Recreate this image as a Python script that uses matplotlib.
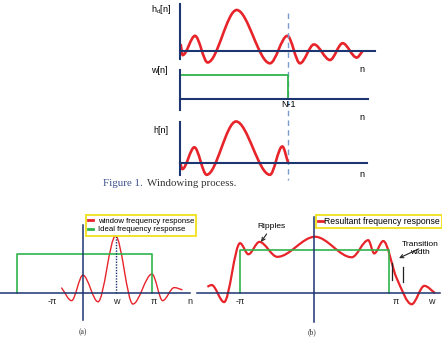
import numpy as np
import matplotlib
matplotlib.use("Agg")
import matplotlib.pyplot as plt
from matplotlib.path import Path
from matplotlib.patches import PathPatch
from matplotlib.lines import Line2D

plt.rcParams['font.family'] = ['Liberation Sans', 'DejaVu Sans']

# ==========================================================
# Datos (puntos extremos de cada curva)
# ==========================================================
# Panel superior: respuesta ideal h_d[n]
hd_n = [0.06, 0.25, 1.39, 2.56, 5.25, 8.33, 9.94, 11.11, 12.41, 13.89, 15.06, 16.36, 16.91]
hd_amp = [0.17, -0.10, 0.37, -0.28, 1.0, -0.30, 0.37, -0.30, 0.16, -0.22, 0.19, -0.16, 0.0]

# Ventana rectangular w[n]
N_menos_1 = 10
w_n = [0, N_menos_1, N_menos_1]
w_val = [1, 1, 0]

# Respuesta enventanada h[n]
h_n = [0.0, 0.22, 1.33, 2.47, 5.19, 8.33, 9.47, 10.03]
h_amp = [0.02, -0.14, 0.39, -0.28, 1.02, -0.28, 0.41, 0.0]

# (a) respuesta en frecuencia de la ventana e ideal
a_w = [-0.96, -0.50, 0.01, 0.69, 1.48, 2.26, 3.12, 3.60, 4.12, 4.49]
a_mag = [0.09, -0.14, 0.31, -0.16, 1.0, -0.20, 0.33, -0.14, 0.09, 0.05]
a_ideal_w = [-2.96, -2.96, 3.14, 3.14]
a_ideal = [0, 0.68, 0.68, 0]
a_ticks = [-1.35, 1.51, 3.18, 4.83]
a_labels = ["-π", "w", "π", "n"]

# (b) respuesta resultante
b_w = [-4.48, -4.30, -3.78, -3.11, -2.76, -2.30, -1.55, 0.03, 1.57, 2.26, 2.51, 2.89, 3.45, 4.08, 4.61, 5.06]
b_mag = [0.14, 0.18, -0.22, 1.16, 0.90, 1.19, 0.84, 1.31, 0.83, 1.23, 0.92, 1.21, 0.34, -0.27, 0.16, -0.01]
b_ideal_w = [-3.11, -3.11, 3.14, 3.14]
b_ideal = [0, 1, 1, 0]
b_ticks = [-3.11, 3.42, 4.92]
b_labels = ["-π", "π", "w"]
trans_w = [3.24, 3.70]
trans_lo = [0.30, 0.26]
trans_hi = [0.69, 0.61]

ROJO = '#e8242b'
AZUL = '#1d3570'
VERDE = '#2fb44b'
AMARILLO = '#f2e11b'
PUNTEADO = '#7a9ccc'

W, H = 442, 340
fig = plt.figure(figsize=(W / 100, H / 100), dpi=100)


def panel(caja, origen, escala, lw=1.5):
    # caja = (izq, arriba, der, abajo) en pixeles; origen y escala en pixeles
    l, t, r, b = caja
    ox, oy = origen
    sx, sy = escala
    ax = fig.add_axes([l / W, 1 - b / H, (r - l) / W, (b - t) / H])
    ax.set_xlim((l - ox) / sx, (r - ox) / sx)
    ax.set_ylim((oy - b) / sy, (oy - t) / sy)
    ax.patch.set_visible(False)
    ax.spines['top'].set_visible(False)
    ax.spines['right'].set_visible(False)
    for s in ['left', 'bottom']:
        ax.spines[s].set_position(('data', 0))
        ax.spines[s].set_color(AZUL)
        ax.spines[s].set_linewidth(lw)
    ax.set_xticks([])
    ax.set_yticks([])
    ax.tick_params(length=0, labelsize=6.5, labelcolor='#222222')
    return ax


def curva(x, y):
    # curva suave (tangentes tipo pchip) dibujada con Bezier
    x = np.asarray(x, float)
    y = np.asarray(y, float)
    h = np.diff(x)
    d = np.diff(y) / h
    m = np.zeros_like(y)
    m[0], m[-1] = d[0], d[-1]
    for k in range(1, len(x) - 1):
        if d[k - 1] * d[k] > 0:
            w1 = 2 * h[k] + h[k - 1]
            w2 = h[k] + 2 * h[k - 1]
            m[k] = (w1 + w2) / (w1 / d[k - 1] + w2 / d[k])
    verts = [(x[0], y[0])]
    codes = [Path.MOVETO]
    for k in range(len(x) - 1):
        verts += [(x[k] + h[k] / 3, y[k] + m[k] * h[k] / 3),
                  (x[k + 1] - h[k] / 3, y[k + 1] - m[k + 1] * h[k] / 3),
                  (x[k + 1], y[k + 1])]
        codes += [Path.CURVE4] * 3
    return Path(verts, codes)


# ==========================================================
# Figura 1: proceso de enventanado
# ==========================================================
ax1 = panel((180, 4, 375, 59), (180, 51), (10.8, 41))
ax1.add_patch(PathPatch(curva(hd_n, hd_amp), fill=False, color=ROJO, lw=1.9, clip_on=False))
ax1.plot([N_menos_1, N_menos_1], [0.93, -3.15], color=PUNTEADO, lw=1.0, ls=(0, (4, 3)), clip_on=False)
ax1.text(-0.83, 1.02, r"h$_\mathregular{d}$[n]", fontsize=6.5, ha='right', va='center')
ax1.text(16.85, -0.44, "n", fontsize=6.5, ha='center', va='center')

ax2 = panel((180, 70, 368, 110), (180, 99.3), (10.8, 24))
ax2.plot(w_n, w_val, color=VERDE, lw=1.3)
ax2.text(-1.11, 1.22, "w[n]", fontsize=6.5, ha='right', va='center')
ax2.text(N_menos_1, -0.2, "N-1", fontsize=6.5, ha='center', va='center')
ax2.text(16.85, -0.74, "n", fontsize=6.5, ha='center', va='center')

ax3 = panel((180, 122, 367, 175), (180, 163.3), (10.8, 41))
ax3.add_patch(PathPatch(curva(h_n, h_amp), fill=False, color=ROJO, lw=1.9, clip_on=False))
ax3.text(-1.11, 0.81, "h[n]", fontsize=6.5, ha='right', va='center')
ax3.text(16.85, -0.285, "n", fontsize=6.5, ha='center', va='center')

t1 = fig.text(103 / W, 1 - 183 / H, "Figure 1.", fontsize=7.8, family=['Liberation Serif', 'DejaVu Serif'],
              color='#3b4f8c', va='center')
ax3.annotate("Windowing process.", xy=(1, 0), xycoords=t1, xytext=(3, 0), textcoords='offset points',
             fontsize=7.8, family=['Liberation Serif', 'DejaVu Serif'], color='#333333', va='bottom')

# ==========================================================
# (a) ventana vs ideal
# ==========================================================
axa = panel((0, 225, 190, 320), (83, 292.7), (22.3, 56.7), lw=1.1)
axa.plot(a_ideal_w, a_ideal, color=VERDE, lw=1.2)
axa.add_patch(PathPatch(curva(a_w, a_mag), fill=False, color=ROJO, lw=1.0, clip_on=False))
axa.plot([a_w[4], a_w[4]], [0, a_mag[4]], color=AZUL, lw=1.0, ls=(0, (1, 1)))
axa.set_xticks(a_ticks, a_labels)
axa.tick_params(axis='x', pad=3)
manijas = [Line2D([], [], color=ROJO, lw=2), Line2D([], [], color=VERDE, lw=2)]
leg = axa.legend(manijas, ["window frequency response", "Ideal frequency response"],
                 loc='upper left', bbox_to_anchor=(86 / W, 1 - 215 / H), bbox_transform=fig.transFigure,
                 borderaxespad=0, fontsize=5.6, fancybox=False, edgecolor=AMARILLO, framealpha=1,
                 handlelength=0.6, handletextpad=0.6, borderpad=0.3, labelspacing=0.15)
leg.get_frame().set_linewidth(1.3)
fig.text(83 / W, 1 - 332 / H, "(a)", fontsize=5.5, family=['Liberation Serif', 'DejaVu Serif'],
         ha='center', va='center', color='#333333')

# ==========================================================
# (b) respuesta resultante
# ==========================================================
axb = panel((197, 217, 440, 322), (314.3, 292.7), (23.87, 42.7), lw=1.1)
axb.plot(b_ideal_w, b_ideal, color=VERDE, lw=1.2)
axb.add_patch(PathPatch(curva(b_w, b_mag), fill=False, color=ROJO, lw=1.6, clip_on=False))
for x, lo, hi in zip(trans_w, trans_lo, trans_hi):
    axb.plot([x, x], [lo, hi], color='#222222', lw=0.9)
axb.set_xticks(b_ticks, b_labels)
axb.tick_params(axis='x', pad=3)
axb.annotate("Ripples", xy=(-2.23, 1.19), xytext=(-1.78, 1.55), fontsize=6, ha='center', va='center',
             arrowprops=dict(arrowstyle='->', color='#222222', lw=0.8, shrinkA=1, shrinkB=0))
axb.annotate("Transition\nwidth", xy=(3.55, 0.81), xytext=(4.43, 1.04), fontsize=6, ha='center',
             va='center', linespacing=1.2, annotation_clip=False,
             arrowprops=dict(arrowstyle='->', color='#222222', lw=0.8, shrinkA=1, shrinkB=0))
leg = axb.legend([Line2D([], [], color=ROJO, lw=2)], ["Resultant frequency response"],
                 loc='upper left', bbox_to_anchor=(315.7 / W, 1 - 215 / H), bbox_transform=fig.transFigure,
                 borderaxespad=0, fontsize=6.2, fancybox=False, edgecolor=AMARILLO, framealpha=1,
                 handlelength=0.6, handletextpad=0.15, borderpad=0.25)
leg.get_frame().set_linewidth(1.3)
fig.text(312 / W, 1 - 332 / H, "(b)", fontsize=5.5, family=['Liberation Serif', 'DejaVu Serif'],
         ha='center', va='center', color='#333333')

fig.savefig("out.png", dpi=100)
